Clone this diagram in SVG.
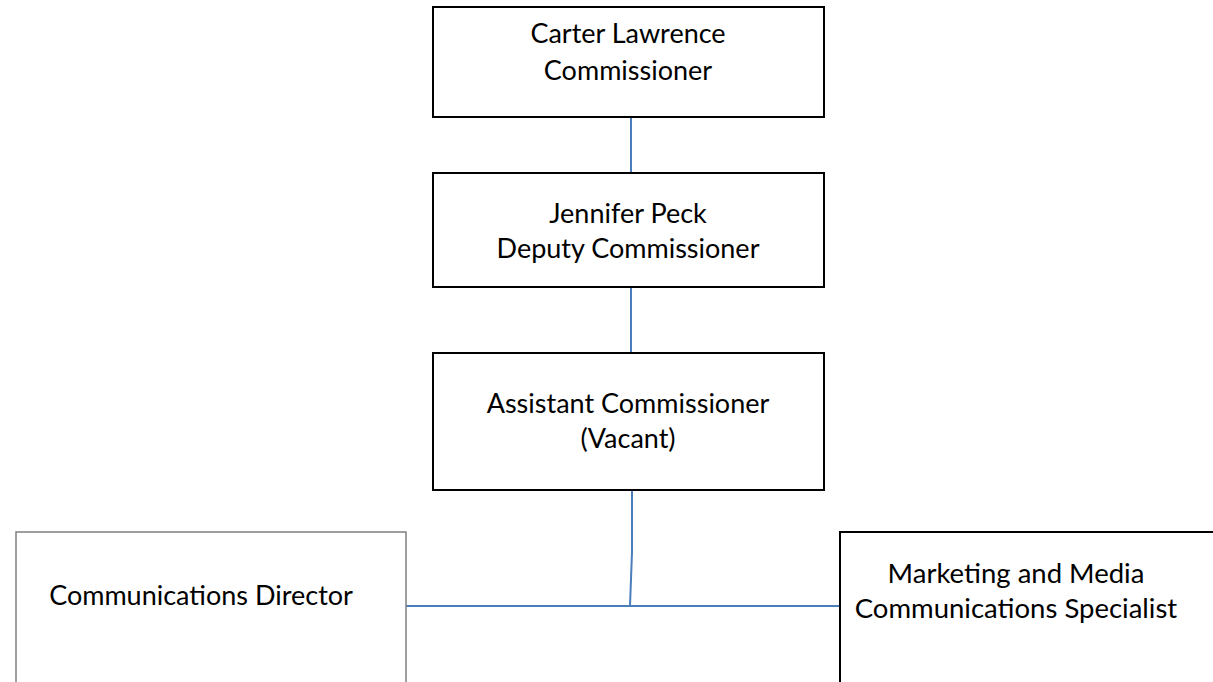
<svg xmlns="http://www.w3.org/2000/svg" width="1213" height="682" viewBox="0 0 1213 682">
<style>
.box{fill:#fff;stroke:#000;stroke-width:2}
.gbox{fill:#fff;stroke:#7f7f7f;stroke-width:1.5}
.t{font-family:Lato,"Liberation Sans",sans-serif;font-size:27px;fill:#000;text-anchor:middle}
.c{fill:none;stroke:#4A7EBB;stroke-width:2}
</style>
<rect width="1213" height="682" fill="#fff"/>
<g id="connectors">
<path class="c" d="M631 117V173"/>
<path class="c" d="M631 287V353"/>
<path class="c" d="M632 490V552L630 606"/>
<path class="c" d="M406 606H840"/>
</g>
<g id="n1">
<rect class="box" x="433" y="7" width="391" height="110"/>
<text class="t" x="628" y="43">Carter Lawrence</text>
<text class="t" x="628" y="80">Commissioner</text>
</g>
<g id="n2">
<rect class="box" x="433" y="173" width="391" height="114"/>
<text class="t" x="628" y="223">Jennifer Peck</text>
<text class="t" x="628" y="258">Deputy Commissioner</text>
</g>
<g id="n3">
<rect class="box" x="433" y="353" width="391" height="137"/>
<text class="t" x="628" y="413">Assistant Commissioner</text>
<text class="t" x="628" y="448">(Vacant)</text>
</g>
<g id="n4">
<rect class="gbox" x="16" y="532" width="390" height="160"/>
<text class="t" x="201" y="605">Communications Director</text>
</g>
<g id="n5">
<rect class="box" x="840" y="532" width="390" height="160"/>
<text class="t" x="1016" y="583" style="font-size:27.5px">Marketing and Media</text>
<text class="t" x="1016" y="618" style="font-size:27.5px">Communications Specialist</text>
</g>
</svg>
